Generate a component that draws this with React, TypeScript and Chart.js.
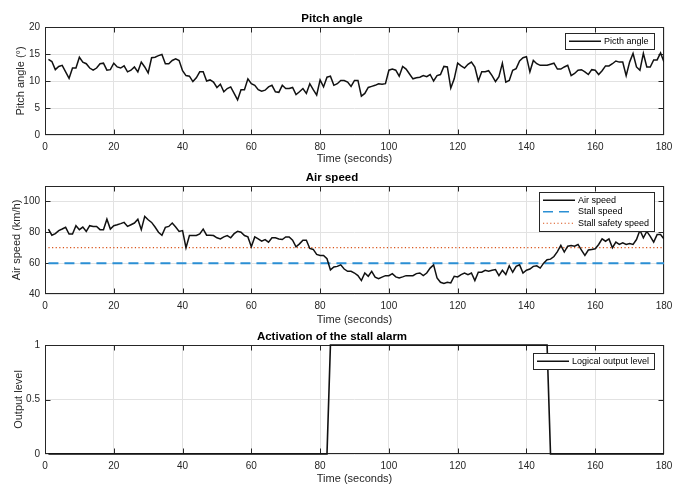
import React, { useEffect, useRef } from 'react';
import { Chart, registerables } from 'chart.js';

Chart.register(...registerables);
Chart.defaults.font.family = '"Liberation Sans", Arial, Helvetica, sans-serif';

// ---------------- DATA ----------------
const time = [
  1, 2, 3, 4, 5, 6, 7, 8, 9, 10, 11, 12, 13, 14, 15, 16, 17, 18, 19, 20,
  21, 22, 23, 24, 25, 26, 27, 28, 29, 30, 31, 32, 33, 34, 35, 36, 37, 38, 39, 40,
  41, 42, 43, 44, 45, 46, 47, 48, 49, 50, 51, 52, 53, 54, 55, 56, 57, 58, 59, 60,
  61, 62, 63, 64, 65, 66, 67, 68, 69, 70, 71, 72, 73, 74, 75, 76, 77, 78, 79, 80,
  81, 82, 83, 84, 85, 86, 87, 88, 89, 90, 91, 92, 93, 94, 95, 96, 97, 98, 99, 100,
  101, 102, 103, 104, 105, 106, 107, 108, 109, 110, 111, 112, 113, 114, 115, 116, 117, 118, 119, 120,
  121, 122, 123, 124, 125, 126, 127, 128, 129, 130, 131, 132, 133, 134, 135, 136, 137, 138, 139, 140,
  141, 142, 143, 144, 145, 146, 147, 148, 149, 150, 151, 152, 153, 154, 155, 156, 157, 158, 159, 160,
  161, 162, 163, 164, 165, 166, 167, 168, 169, 170, 171, 172, 173, 174, 175, 176, 177, 178, 179, 180,
];

const pitchAngle = [
  14.0, 13.6, 12.1, 12.7, 12.9, 11.7, 10.5, 12.4, 12.4, 14.4, 13.5, 13.2, 12.4, 12.0, 12.4, 13.2, 13.3, 12.0, 12.1, 13.3,
  12.6, 12.4, 12.8, 11.7, 12.0, 12.6, 11.7, 13.5, 12.6, 11.5, 14.3, 14.4, 14.7, 14.9, 13.2, 13.2, 13.8, 14.1, 13.8, 11.9,
  11.0, 10.9, 9.9, 10.6, 11.7, 11.7, 10.0, 10.2, 9.8, 8.8, 9.4, 8.0, 8.6, 8.9, 7.7, 6.5, 8.4, 8.4, 10.4, 9.5,
  9.2, 8.4, 8.1, 8.3, 8.9, 9.2, 8.0, 7.9, 9.2, 8.6, 8.6, 8.8, 7.5, 8.0, 8.6, 7.7, 9.5, 8.4, 7.4, 10.2,
  8.9, 10.7, 10.9, 9.2, 9.5, 10.1, 10.1, 9.8, 9.0, 10.1, 10.1, 7.2, 7.7, 8.8, 9.0, 9.2, 9.5, 9.4, 9.5, 12.0,
  12.2, 12.0, 10.9, 12.7, 12.2, 11.3, 10.4, 10.6, 10.7, 11.0, 10.8, 11.2, 10.0, 11.0, 11.2, 12.7, 12.6, 8.7, 10.4, 13.3,
  12.8, 12.4, 13.1, 13.5, 12.6, 10.0, 11.7, 11.7, 11.9, 11.0, 9.9, 10.8, 13.3, 9.8, 10.1, 12.0, 12.3, 13.7, 14.3, 14.5,
  11.7, 13.8, 13.2, 12.9, 12.9, 12.9, 13.1, 13.3, 12.2, 12.2, 12.6, 12.9, 11.0, 11.4, 12.0, 12.1, 11.7, 11.2, 12.1, 12.0,
  11.2, 11.9, 12.8, 12.8, 13.2, 13.7, 13.5, 13.5, 11.0, 13.5, 15.1, 12.6, 12.0, 15.1, 12.6, 12.6, 13.9, 13.9, 15.2, 13.5,
];

const airSpeed = [
  82.1, 78.1, 79.1, 81.1, 82.1, 83.2, 78.9, 78.9, 84.3, 81.7, 83.4, 80.6, 84.3, 83.8, 83.8, 81.7, 81.7, 88.5, 82.1, 84.3,
  84.9, 85.6, 86.4, 83.8, 84.9, 86.0, 88.5, 81.7, 90.3, 88.1, 86.4, 83.4, 80.0, 78.1, 83.2, 83.8, 86.0, 83.4, 80.6, 81.1,
  70.0, 77.9, 77.9, 77.9, 78.9, 82.1, 78.1, 78.1, 77.9, 76.4, 75.7, 77.0, 77.9, 76.4, 79.1, 80.6, 80.0, 77.9, 77.0, 70.6,
  77.0, 75.7, 74.2, 75.3, 73.6, 76.4, 76.4, 75.7, 75.3, 77.0, 77.0, 74.9, 70.6, 72.5, 74.9, 74.9, 69.5, 68.9, 65.7, 65.0,
  65.0, 62.9, 55.6, 57.5, 57.9, 58.9, 56.2, 54.7, 54.7, 53.6, 51.9, 48.7, 53.6, 51.5, 54.7, 50.9, 49.9, 50.9, 51.9, 51.9,
  53.2, 51.1, 50.4, 51.1, 51.9, 51.9, 51.9, 53.2, 53.6, 51.9, 53.6, 56.8, 58.9, 50.4, 47.6, 46.8, 47.6, 47.2, 51.5, 51.1,
  52.6, 53.6, 52.6, 53.6, 48.7, 54.1, 54.1, 55.4, 54.7, 55.4, 55.8, 51.9, 55.4, 52.6, 58.3, 54.1, 57.9, 58.9, 53.6, 55.4,
  56.2, 57.9, 58.3, 56.8, 60.0, 62.2, 62.6, 64.3, 67.5, 71.5, 67.2, 71.0, 71.5, 71.0, 72.1, 68.5, 65.0, 68.5, 68.9, 69.3,
  72.1, 75.7, 74.2, 75.7, 70.0, 73.6, 72.1, 73.2, 72.1, 72.7, 72.1, 75.3, 81.3, 76.4, 80.6, 77.4, 73.6, 78.5, 78.5, 75.7,
];

const stallTime = [1, 180];
const stallSpeed = [60, 60];
const stallSafetySpeed = [70, 70];

const alarmTime = [1, 82, 83, 146, 147, 180];
const alarmLevel = [0, 0, 1, 1, 0, 0];

// ---------------- STYLE ----------------
const AXIS = '#262626';
const GRID = '#e2e2e2';
const TICK_FONT = { size: 10 };
const LABEL_FONT = { size: 11 };

const pts = (xs: number[], ys: number[]) => xs.map((x, i) => ({ x, y: ys[i] }));

const matlabFrame = {
  id: 'matlabFrame',
  beforeDatasetsDraw(chart: any) {
    const { ctx, chartArea: a, scales } = chart;
    const tl = 5;
    ctx.save();
    ctx.strokeStyle = AXIS;
    ctx.lineWidth = 1;
    ctx.beginPath();
    const L = Math.round(a.left) + 0.5;
    const R = Math.round(a.right) - 0.5;
    const T = Math.round(a.top) + 0.5;
    const B = Math.round(a.bottom) - 0.5;
    scales.x.ticks.forEach((t: any) => {
      let px = Math.round(scales.x.getPixelForValue(t.value)) + 0.5;
      px = Math.min(Math.max(px, L), R);
      ctx.moveTo(px, B); ctx.lineTo(px, B - tl);
      ctx.moveTo(px, T); ctx.lineTo(px, T + tl);
    });
    scales.y.ticks.forEach((t: any) => {
      let py = Math.round(scales.y.getPixelForValue(t.value)) + 0.5;
      py = Math.min(Math.max(py, T), B);
      ctx.moveTo(L, py); ctx.lineTo(L + tl, py);
      ctx.moveTo(R, py); ctx.lineTo(R - tl, py);
    });
    ctx.stroke();
    ctx.strokeRect(L, T, R - L, B - T);
    ctx.restore();
  },
};

const boxLegend = {
  id: 'boxLegend',
  afterDraw(chart: any, _args: any, opts: any) {
    const { ctx, chartArea: a } = chart;
    const items = chart.data.datasets;
    ctx.save();
    ctx.font = '9px "Liberation Sans", Arial, sans-serif';
    const textW = Math.max(...items.map((d: any) => ctx.measureText(d.label).width));
    const rowH = 11.5;
    const sample = 32;
    const w = Math.round(4 + sample + 3 + textW + 5);
    const h = Math.round(items.length * rowH + 4);
    const right = Math.round(a.right - (opts.right ?? 10));
    const left = right - w;
    const top = Math.round(a.top + (opts.top ?? 6));
    ctx.fillStyle = '#fff';
    ctx.fillRect(left, top, w, h);
    ctx.strokeStyle = AXIS;
    ctx.lineWidth = 1;
    ctx.strokeRect(left + 0.5, top + 0.5, w, h);
    items.forEach((d: any, i: number) => {
      const cy = top + 2.5 + rowH * (i + 0.5);
      ctx.strokeStyle = d.borderColor;
      ctx.lineWidth = Math.min(d.borderWidth, 1.5);
      ctx.setLineDash(d.borderDash || []);
      ctx.beginPath();
      ctx.moveTo(left + 4, cy);
      ctx.lineTo(left + 4 + sample, cy);
      ctx.stroke();
      ctx.setLineDash([]);
      ctx.fillStyle = '#000';
      ctx.textBaseline = 'middle';
      ctx.textAlign = 'left';
      ctx.fillText(d.label, left + 4 + sample + 3, cy);
    });
    ctx.restore();
  },
};

function makeConfig(p: any): any {
  const titleLH = 11.5 * 1.2;
  const titleTopPad = p.titleCenter - titleLH / 2;
  return {
    type: 'line',
    data: { datasets: p.datasets },
    plugins: [matlabFrame, boxLegend],
    options: {
      responsive: false,
      animation: false,
      devicePixelRatio: 1,
      events: [],
      layout: { padding: { left: 0, right: 9, top: 0, bottom: 0 } },
      elements: { point: { radius: 0 }, line: { tension: 0 } },
      plugins: {
        legend: { display: false },
        tooltip: { enabled: false },
        title: {
          display: true,
          text: p.title,
          color: '#000',
          font: { size: 11.5, weight: 'bold' },
          padding: { top: titleTopPad, bottom: p.plotTop - titleTopPad - titleLH },
        },
        boxLegend: { top: p.legendTop, right: 10 },
      },
      scales: {
        x: {
          type: 'linear',
          min: 0,
          max: 180,
          ticks: { stepSize: 20, padding: 6, color: AXIS, font: TICK_FONT, maxRotation: 0 },
          grid: { color: GRID, drawTicks: false },
          border: { display: false },
          title: { display: true, text: 'Time (seconds)', color: AXIS, font: LABEL_FONT, padding: { top: 0, bottom: 0 } },
          afterFit: (s: any) => {
            s.height = p.height - p.plotBottom;
            s.paddingLeft = 0;
            s.paddingRight = 0;
          },
        },
        y: {
          type: 'linear',
          min: p.yMin,
          max: p.yMax,
          ticks: {
            stepSize: p.yStep, padding: 5, color: AXIS, font: TICK_FONT, includeBounds: false,
            callback: (v: any) => String(v),
          },
          grid: { color: GRID, drawTicks: false },
          border: { display: false },
          title: { display: true, text: p.yLabel, color: AXIS, font: LABEL_FONT, padding: { top: p.yTitlePad, bottom: 0 } },
          afterFit: (s: any) => {
            s.width = 45;
            s.paddingTop = 0;
            s.paddingBottom = 0;
          },
        },
      },
    },
  };
}

function Panel({ cfg }: { cfg: any }) {
  const ref = useRef<HTMLCanvasElement | null>(null);
  useEffect(() => {
    if (!ref.current) return;
    const chart = new Chart(ref.current, makeConfig(cfg));
    return () => chart.destroy();
  }, [cfg]);
  return (
    <canvas
      ref={ref}
      width={673}
      height={cfg.height}
      style={{ position: 'absolute', left: 0, top: cfg.top, width: 673, height: cfg.height }}
    />
  );
}

const panels: any[] = [
  {
    top: 0, height: 166, titleCenter: 19, plotTop: 27, plotBottom: 135,
    title: 'Pitch angle', yLabel: 'Pitch angle (°)', yTitlePad: 14.4,
    yMin: 0, yMax: 20, yStep: 5, legendTop: 6,
    datasets: [
      { label: 'Picth angle', data: pts(time, pitchAngle), borderColor: '#111', borderWidth: 1.5, fill: false },
    ],
  },
  {
    top: 166, height: 161, titleCenter: 12, plotTop: 20, plotBottom: 128,
    title: 'Air speed', yLabel: 'Air speed (km/h)', yTitlePad: 10.4,
    yMin: 40, yMax: 110, yStep: 20, legendTop: 6,
    datasets: [
      { label: 'Air speed', data: pts(time, airSpeed), borderColor: '#111', borderWidth: 1.5, fill: false },
      { label: 'Stall speed', data: pts(stallTime, stallSpeed), borderColor: '#2b8fd4', borderWidth: 2, borderDash: [10, 6], fill: false },
      { label: 'Stall safety speed', data: pts(stallTime, stallSafetySpeed), borderColor: '#D95319', borderWidth: 1.2, borderDash: [1.2, 2.4], fill: false },
    ],
  },
  {
    top: 327, height: 159, titleCenter: 10, plotTop: 18, plotBottom: 127,
    title: 'Activation of the stall alarm', yLabel: 'Output level', yTitlePad: 12.4,
    yMin: 0, yMax: 1, yStep: 0.5, legendTop: 8,
    datasets: [
      { label: 'Logical output level', data: pts(alarmTime, alarmLevel), borderColor: '#111', borderWidth: 1.6, fill: false, clip: false },
    ],
  },
];

export default function App() {
  return (
    <div style={{ position: 'absolute', left: 0, top: 0, width: 673, height: 486, background: '#fff' }}>
      {panels.map((cfg, i) => (
        <Panel key={i} cfg={cfg} />
      ))}
    </div>
  );
}
